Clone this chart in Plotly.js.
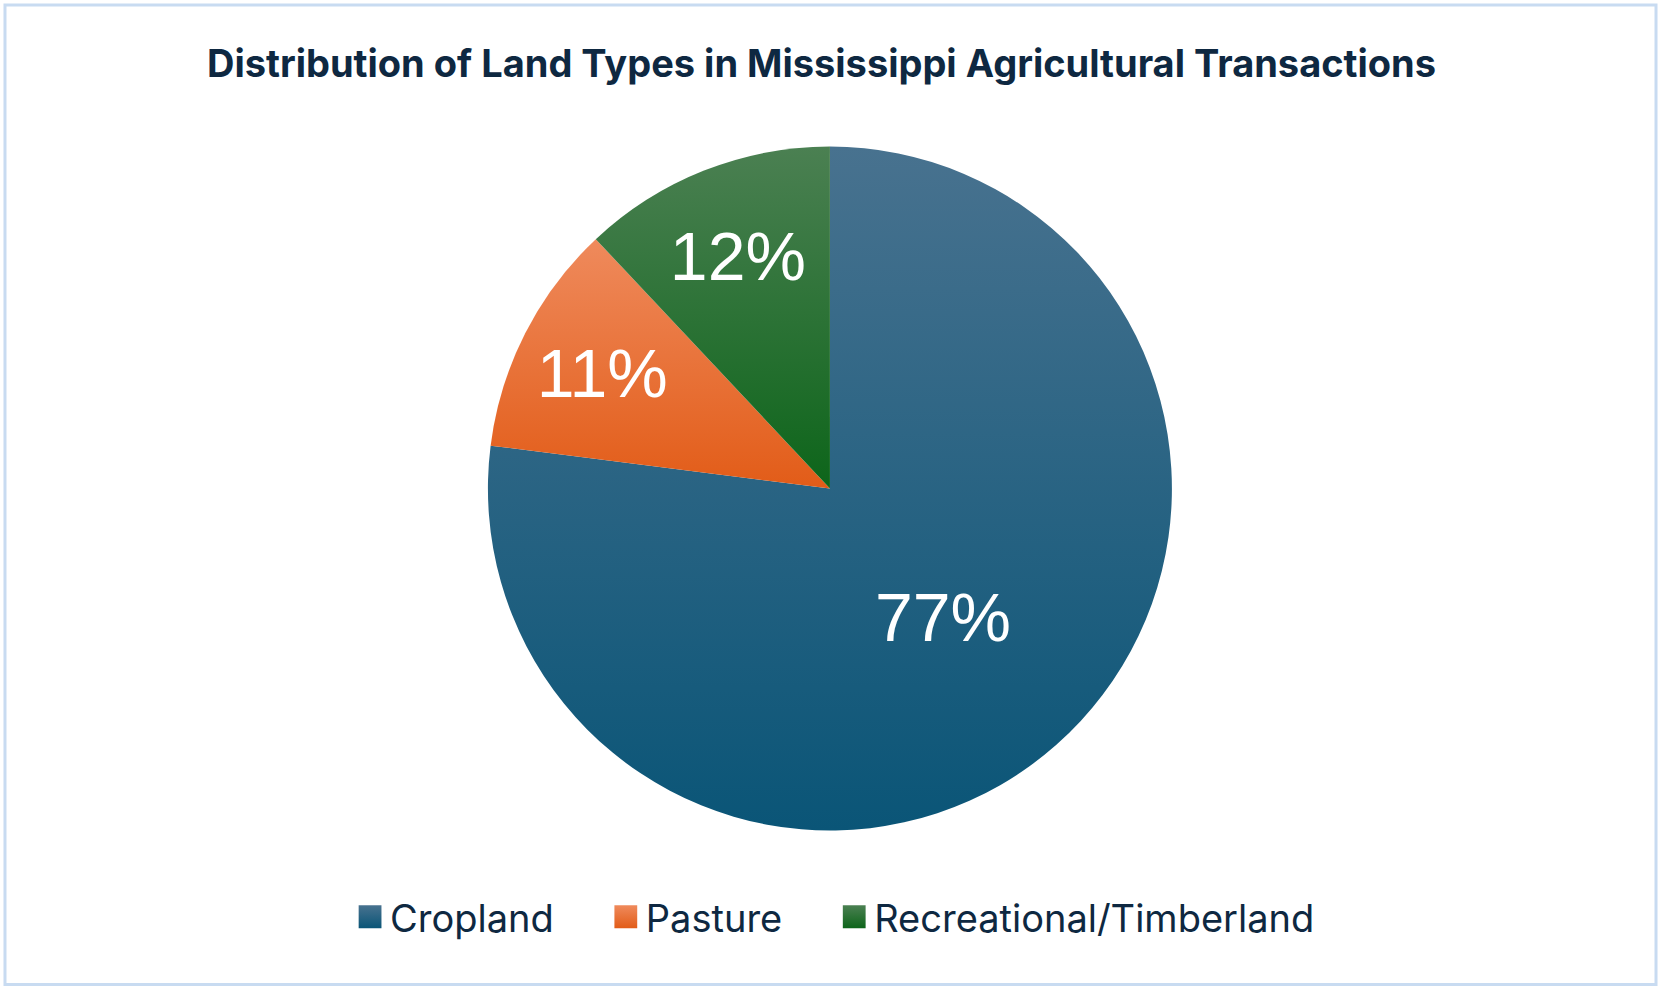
<!DOCTYPE html>
<html>
<head>
<meta charset="utf-8">
<script src="https://cdn.plot.ly/plotly-3.0.1.min.js"></script>
<style>
  html, body { margin: 0; padding: 0; background: #ffffff; }
  #chart { width: 1663px; height: 990px; }
</style>
</head>
<body>
<div id="chart"></div>
<script>
// land types and share of transactions (percent)
var landTypes = ['Cropland', 'Pasture', 'Recreational/Timberland'];
var shares = [77, 11, 12];
var sliceColors = ['#156082', '#e97132', '#196b24'];
// gradient ends per slice (top lighter, bottom darker)
var gradTop = ['#48728f', '#ef8a5c', '#4b8052'];
var gradBottom = ['#0a5577', '#e25c18', '#0d651a'];

var textColor = '#0e2841';
var legendExtraGap = 47;

var trace = {
  type: 'pie',
  labels: landTypes,
  values: shares,
  sort: false,
  direction: 'clockwise',
  rotation: 0,
  textinfo: 'percent',
  texttemplate: '%{percent:.0%}',
  textposition: 'inside',
  insidetextorientation: 'horizontal',
  textfont: { family: '"Liberation Sans", Arial, sans-serif', size: 68, color: '#ffffff' },
  marker: { colors: sliceColors, line: { width: 0 } },
  domain: { x: [0.2934, 0.7047], y: [0.1606, 0.8525] },
  hoverinfo: 'label+percent'
};

var layout = {
  width: 1663,
  height: 990,
  margin: { l: 0, r: 0, t: 0, b: 0 },
  paper_bgcolor: '#ffffff',
  title: {
    text: '<b>Distribution of Land Types in Mississippi Agricultural Transactions</b>',
    font: { family: 'Inter, sans-serif', size: 38, color: textColor },
    x: 0.494,
    xanchor: 'center',
    y: 0.936,
    yanchor: 'middle'
  },
  showlegend: true,
  legend: {
    orientation: 'h',
    x: 0.2105,
    xanchor: 'left',
    y: 0.0737,
    yanchor: 'middle',
    itemwidth: 30,
    font: { family: 'Inter, sans-serif', size: 38, color: textColor }
  },
  shapes: [{
    type: 'rect',
    xref: 'paper', yref: 'paper',
    x0: 0.003, x1: 0.9958, y0: 0.0056, y1: 0.995,
    line: { color: '#c8dbf1', width: 3 },
    fillcolor: 'rgba(0,0,0,0)'
  }]
};

Plotly.newPlot('chart', [trace], layout, { displayModeBar: false, responsive: false }).then(function(gd) {
  // office style vertical gradient fill on each slice and legend square
  var svg = gd.querySelector('svg.main-svg');
  var defs = svg.querySelector('defs');
  var ns = 'http://www.w3.org/2000/svg';
  landTypes.forEach(function(name, i) {
    var g = document.createElementNS(ns, 'linearGradient');
    g.setAttribute('id', 'landgrad' + i);
    g.setAttribute('x1', '0'); g.setAttribute('y1', '0');
    g.setAttribute('x2', '0'); g.setAttribute('y2', '1');
    [[0, gradTop[i]], [1, gradBottom[i]]].forEach(function(s) {
      var st = document.createElementNS(ns, 'stop');
      st.setAttribute('offset', s[0]);
      st.setAttribute('stop-color', s[1]);
      g.appendChild(st);
    });
    defs.appendChild(g);
  });
  gd.querySelectorAll('g.slice path.surface').forEach(function(p, i) {
    p.style.fill = 'url(#landgrad' + i + ')';
  });
  gd.querySelectorAll('g.legend path.legendpie').forEach(function(p, i) {
    p.style.fill = 'url(#landgrad' + i + ')';
    p.style.strokeWidth = '0';
    var t = p.getAttribute('transform') || '';
    p.setAttribute('transform', t + ' scale(1.9)');
  });
  // wider gaps between legend entries, like the original
  gd.querySelectorAll('g.legend g.traces').forEach(function(it, i) {
    var t = it.getAttribute('transform') || 'translate(0,0)';
    var m = t.match(/translate\(\s*([-\d.]+)[ ,]+([-\d.]+)\s*\)/);
    if (m) {
      it.setAttribute('transform', 'translate(' + (parseFloat(m[1]) + i * legendExtraGap) + ',' + m[2] + ')');
    }
  });
  gd.querySelectorAll('defs clipPath[id^="legend"] rect, g.legend rect.bg').forEach(function(r) {
    var w = parseFloat(r.getAttribute('width')) || 0;
    r.setAttribute('width', w + 2 * legendExtraGap + 20);
  });
});
</script>
</body>
</html>
